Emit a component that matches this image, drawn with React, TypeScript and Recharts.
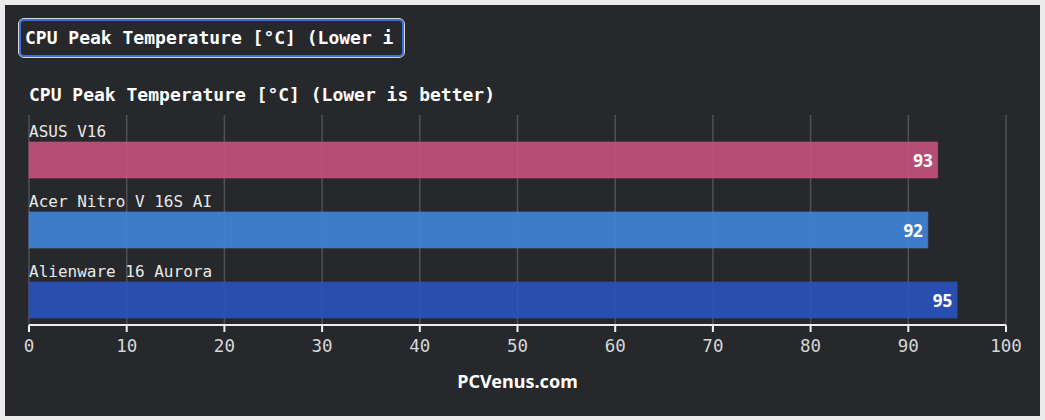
import React from "react";
import { BarChart, Bar, XAxis, YAxis, CartesianGrid, Cell } from "recharts";

const categories = ["ASUS V16", "Acer Nitro V 16S AI", "Alienware 16 Aurora"];
const values = [93, 92, 95];
const colors = ["#c2527a", "#4182d4", "#2a52ba"];
const xTicks = [0, 10, 20, 30, 40, 50, 60, 70, 80, 90, 100];
const title = "CPU Peak Temperature [°C] (Lower is better)";
const credit = "PCVenus.com";

const data = categories.map((name, i) => ({ name, value: values[i] }));

const MONO = "'DejaVu Sans Mono', 'Liberation Mono', monospace";
const SANS = "'Noto Sans', 'Open Sans', sans-serif";

const BarShape = (props: any) => {
  const { x, y, width, height, index, payload } = props;
  const shift = 10;
  const top = y + shift;
  return (
    <g>
      <rect
        x={x}
        y={top}
        width={width}
        height={height}
        fill={colors[index]}
        fillOpacity={0.93}
        stroke={colors[index]}
        strokeOpacity={0.6}
        strokeWidth={1}
      />
      <text
        x={x}
        y={top - 5}
        fill="#e8e8e8"
        fontFamily={MONO}
        fontSize={16}
      >
        {payload.name}
      </text>
      <text
        x={x + width - 5}
        y={top + height / 2}
        fill="#ffffff"
        fontFamily={SANS}
        fontWeight={700}
        fontSize={17}
        textAnchor="end"
        dominantBaseline="central"
      >
        {payload.value}
      </text>
    </g>
  );
};

export default function App() {
  return (
    <div
      style={{
        position: "fixed",
        left: 0,
        top: 0,
        width: 1045,
        height: 420,
        background: "#ececec",
      }}
    >
      <div
        style={{
          position: "absolute",
          left: 5,
          top: 5,
          width: 1035,
          height: 411,
          background: "#27282c",
        }}
      />
      <div
        style={{
          position: "absolute",
          left: 19,
          top: 19,
          width: 381,
          height: 34,
          border: "2px solid #3a6fd8",
          outline: "1px solid #d8d8d8",
          borderRadius: 5,
          boxSizing: "content-box",
          background: "#27282c",
        }}
      >
        <div
          style={{
            position: "absolute",
            left: 4,
            top: 7,
            width: 369,
            overflow: "hidden",
            whiteSpace: "nowrap",
            fontFamily: MONO,
            fontWeight: 700,
            fontSize: 18,
            color: "#ffffff",
            lineHeight: "20px",
          }}
        >
          {title}
        </div>
      </div>
      <div
        style={{
          position: "absolute",
          left: 29,
          top: 85,
          whiteSpace: "nowrap",
          fontFamily: MONO,
          fontWeight: 700,
          fontSize: 18,
          color: "#ffffff",
          lineHeight: "20px",
        }}
      >
        {title}
      </div>
      <div style={{ position: "absolute", left: 0, top: 0 }}>
        <BarChart
          width={1045}
          height={420}
          data={data}
          layout="vertical"
          margin={{ top: 115, right: 39, bottom: 65, left: 29 }}
          barSize={36}
          barCategoryGap={0}
        >
          <CartesianGrid
            horizontal={false}
            vertical={true}
            stroke="#505156"
            strokeWidth={1.5}
          />
          <XAxis
            type="number"
            domain={[0, 100]}
            ticks={xTicks}
            interval={0}
            height={30}
            axisLine={{ stroke: "#eeeeee", strokeWidth: 2 }}
            tickLine={{ stroke: "#eeeeee", strokeWidth: 2 }}
            tickSize={7}
            tickMargin={8}
            tick={{ fill: "#d6d6d6", fontFamily: MONO, fontSize: 17.5 }}
          />
          <YAxis type="category" dataKey="name" hide width={0} />
          <Bar
            dataKey="value"
            isAnimationActive={false}
            shape={<BarShape />}
          >
            {data.map((d, i) => (
              <Cell key={d.name} fill={colors[i]} />
            ))}
          </Bar>
        </BarChart>
      </div>
      <div
        style={{
          position: "absolute",
          left: 29,
          width: 977,
          top: 370,
          textAlign: "center",
          fontFamily: SANS,
          fontWeight: 700,
          fontSize: 18,
          color: "#ffffff",
          lineHeight: "22px",
        }}
      >
        {credit}
      </div>
    </div>
  );
}
